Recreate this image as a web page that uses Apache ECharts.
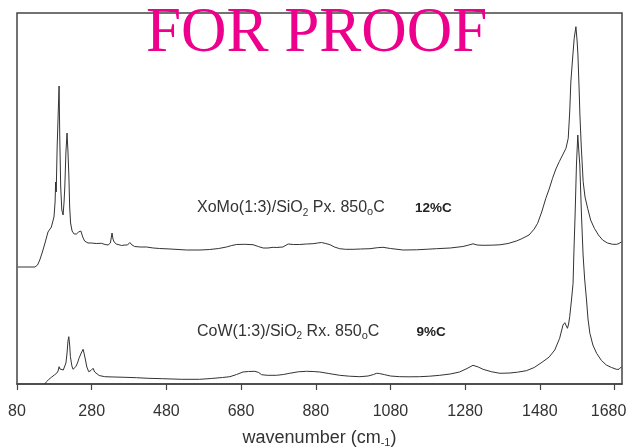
<!DOCTYPE html>
<html>
<head>
<meta charset="utf-8">
<script src="https://cdn.jsdelivr.net/npm/echarts@6/dist/echarts.min.js"></script>
<style>
html,body{margin:0;padding:0;background:#fff;}
#chart{width:628px;height:448px;}
</style>
</head>
<body>
<div id="chart"></div>
<script>
// Wavenumber ticks (cm-1)
var xTickValues = [80, 280, 480, 680, 880, 1080, 1280, 1480, 1680];

// Upper spectrum: XoMo(1:3)/SiO2 Px. 850oC 12%C  (intensity, arbitrary units, offset)
var waveA = [82,128,135,141,148,155,163,172,179,182,183.5,185,187.5,190,192.7,194.5,197,200,203.4,206,208,211,214,216.5,219,221,223.5,227.5,233,239,245,251,256,261,270,279,292,306,316,324,330,334.5,337,340,346,351,360,369,376,382,388,395,410,427,445,462,490,534,570,596,620,641,655,668,690,712,726,739,752,766,770,774,792,806,820,837,855,873,885,895,907,918,930,944,960,980,1000,1025,1045,1060,1080,1114,1150,1180,1203,1240,1274,1290,1301,1312,1328,1350,1373,1395,1417,1430,1451,1465,1474,1485,1496,1505,1514,1523,1532,1541,1550,1556,1560,1563,1568,1572,1576.6,1580,1582,1585,1587.3,1591,1596,1601,1608,1616,1626,1637,1648,1661,1675,1686,1692,1698];
var intensityA = [120,120,122,127,135,144,155,160,170,185,205,195,240,270,301,250,200,177,172,185,200,235,254,235,210,180,164,156,153,153,155,156,150,146,144,144,143.5,143.7,142.5,142,144,154,148,145,143,142,141.5,142,142,144.5,142,140.5,140,140,139,138.5,138,137,137,137.5,138.5,140,141.5,142.5,142.7,142.3,140.5,139,139,139.7,141.5,139.5,140,143,142.5,142.5,143,143.3,144,144.5,143.5,142.3,140,138.3,137.7,137.7,138,138.3,139.3,139.7,138.5,137,137.2,137.8,138.3,139,140.5,142,143.2,142,141.7,141.8,142.2,143.5,146,148,152,158,163.7,175,188.7,198,208.7,218,225.3,232,238.7,248.7,275,305,330,348.7,360.3,345,332,300,272,240,205.3,190,178.7,167,158.7,152,147,144,142.7,142.7,143.5,145];

// Lower spectrum: CoW(1:3)/SiO2 Rx. 850oC 9%C
var waveB = [154,159,165,172,180,186,190,192.7,195,199,204,208,211,214,216.5,218.7,221,223,227,230,234,237.4,242,246,252,257,260,263.4,267,272,278,283.7,288,293,300,315,340,369,400,431,470,520,569,600,630,650,668,685,700,717,727,735,750,775,793,810,833,855,873,891,915,944,970,998,1020,1035,1042.5,1050,1064.7,1080,1105,1130,1158,1185,1212,1240,1265,1285,1301,1315,1328,1350,1373,1400,1420,1444,1465,1488,1505,1520,1533,1542,1547,1551,1554,1557,1560,1565,1569,1571,1574.4,1578,1581.6,1584,1587,1591.5,1595.8,1600,1605,1609,1614,1622,1632,1645,1658,1672,1685,1692,1698.6];
var intensityB = [3,5.3,7.5,9.7,12,13.7,16,20.3,18,17,17,18,24,34,46,50.3,42,30.3,21,17.7,18.5,20.3,24,28.7,34,37.7,33,27,20,15.3,16.5,18.7,15,13,11.5,10.3,10,9.7,9.3,8.7,8.3,7.7,7.7,8.5,9.5,10.3,12.5,15,15.5,15.7,14.5,12.3,11.7,11.7,12.5,13.7,15.2,15.7,15.5,15,13.5,11.7,10.8,10.3,11,12.5,13.7,13.5,12.3,11,10.3,10.2,10.3,10.8,11.7,13,15,18.5,21.7,20,17.7,15.3,13.7,14,14.8,16.3,19.5,25.3,30,37,48.7,62,64.3,61,58.7,63,70.3,88,103.7,132,172,222,252,238,222,172,132,108,87,68,53.7,42,33.7,26.5,22,19.5,17.7,17.7,20.3];

var labelA = {main1: 'XoMo(1:3)/SiO', sub1: '2', main2: ' Px. 850', deg: 'o', main3: 'C', carbon: '12%C'};
var labelB = {main1: 'CoW(1:3)/SiO', sub1: '2', main2: ' Rx. 850', deg: 'o', main3: 'C', carbon: '9%C'};
var watermark = 'FOR PROOF';

function pairs(xs, ys) { return xs.map(function (x, i) { return [x, ys[i]]; }); }

var SANS = 'Liberation Sans, Arial, Helvetica, sans-serif';
var richStyle = {
  m: {fontSize: 16, fontFamily: SANS, fill: '#333', lineHeight: 20},
  s: {fontSize: 10, fontFamily: SANS, fill: '#333', lineHeight: 10, verticalAlign: 'bottom'},
  o: {fontSize: 11, fontFamily: SANS, fill: '#333', lineHeight: 17, verticalAlign: 'bottom'}
};
function richText(l) {
  return '{m|' + l.main1 + '}{s|' + l.sub1 + '}{m|' + l.main2 + '}{o|' + l.deg + '}{m|' + l.main3 + '}';
}
var lastTick = xTickValues[xTickValues.length - 1];

var chart = echarts.init(document.getElementById('chart'), null, {renderer: 'canvas'});
chart.setOption({
  animation: false,
  backgroundColor: '#fff',
  grid: {left: 17, right: 6, top: 13, bottom: 64, show: true, borderColor: '#444', borderWidth: 1.5, backgroundColor: 'transparent', containLabel: false, outerBoundsMode: 'none'},
  xAxis: {
    type: 'value', min: 80, max: 1700, interval: 200,
    axisLine: {show: true, onZero: false, lineStyle: {color: '#444', width: 1.5}},
    axisTick: {show: true, inside: false, length: 6, customValues: xTickValues, lineStyle: {color: '#444', width: 1.2}},
    axisLabel: {show: true, customValues: xTickValues, fontSize: 16, color: '#333', fontFamily: SANS, margin: 20, hideOverlap: false,
      formatter: function (v) { return v === lastTick ? '{r|' + v + '}' : String(v); },
      rich: {r: {fontSize: 16, fontFamily: SANS, color: '#333', padding: [0, 12, 0, 0]}}},
    splitLine: {show: false},
    name: '{a|wavenumber (cm}{s|-1}{a|)}',
    nameLocation: 'middle', nameGap: 44,
    nameTextStyle: {
      rich: {
        a: {fontSize: 18, fontFamily: SANS, color: '#333', lineHeight: 20},
        s: {fontSize: 11, fontFamily: SANS, color: '#333', lineHeight: 12, verticalAlign: 'bottom'}
      }
    }
  },
  yAxis: {type: 'value', min: 3, max: 374, show: false, splitLine: {show: false}},
  series: [
    {type: 'line', data: pairs(waveA, intensityA), showSymbol: false, symbol: 'none', silent: true, lineStyle: {color: '#333', width: 1}},
    {type: 'line', data: pairs(waveB, intensityB), showSymbol: false, symbol: 'none', silent: true, lineStyle: {color: '#333', width: 1}}
  ],
  graphic: [
    {type: 'text', x: 197, y: 197.8, style: {text: richText(labelA), rich: richStyle, verticalAlign: 'top', align: 'left'}},
    {type: 'text', x: 415, y: 208.6, style: {text: labelA.carbon, fontSize: 13.5, fontWeight: 'bold', fontFamily: SANS, fill: '#222', verticalAlign: 'middle', align: 'left'}},
    {type: 'text', x: 197, y: 321.5, style: {text: richText(labelB), rich: richStyle, verticalAlign: 'top', align: 'left'}},
    {type: 'text', x: 416.5, y: 332.3, style: {text: labelB.carbon, fontSize: 13.5, fontWeight: 'bold', fontFamily: SANS, fill: '#222', verticalAlign: 'middle', align: 'left'}},
    {type: 'text', x: 146, y: 34, z: 100, style: {text: watermark, fontSize: 63, fontFamily: 'Liberation Serif, Times New Roman, serif', fill: '#EC008C', verticalAlign: 'middle', align: 'left'}}
  ]
});
</script>
</body>
</html>
